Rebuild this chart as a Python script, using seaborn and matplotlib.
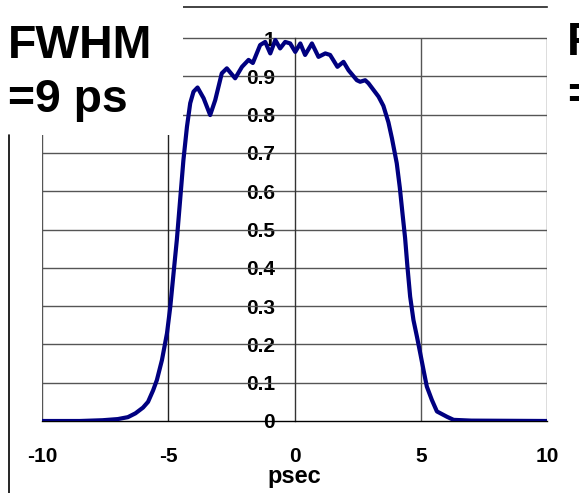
import matplotlib
matplotlib.use("Agg")
import matplotlib.pyplot as plt
import seaborn as sns
import pandas as pd
from matplotlib.lines import Line2D
from matplotlib.patches import Rectangle

sns.set_style("white")
plt.rcParams['font.family'] = ['Liberation Sans', 'DejaVu Sans']
plt.rcParams['text.color'] = 'black'
plt.rcParams['xtick.color'] = 'black'
plt.rcParams['ytick.color'] = 'black'
plt.rcParams['axes.labelcolor'] = 'black'

# ---- data ----
time_ps = [-10, -8.5, -7.6, -7.0, -6.6, -6.3, -6.0, -5.8, -5.6, -5.45, -5.25, -5.05,
           -4.92, -4.79, -4.66, -4.53, -4.4, -4.26, -4.13, -4.0, -3.84, -3.6, -3.34,
           -3.14, -2.88, -2.68, -2.35, -2.08, -1.82, -1.65, -1.36, -1.16, -0.96, -0.76,
           -0.57, -0.37, -0.17, 0.03, 0.23, 0.42, 0.69, 0.95, 1.22, 1.41, 1.7, 1.94,
           2.14, 2.47, 2.6, 2.8, 2.93, 3.33, 3.52, 3.72, 3.86, 4.05, 4.17, 4.28, 4.38,
           4.47, 4.58, 4.71, 4.85, 4.98, 5.11, 5.24, 5.44, 5.64, 6.04, 6.3, 7.0, 10]
intensity = [0, 0, 0.002, 0.005, 0.01, 0.02, 0.035, 0.05, 0.08, 0.107, 0.159, 0.229,
             0.298, 0.386, 0.473, 0.577, 0.681, 0.768, 0.83, 0.86, 0.871, 0.843, 0.799,
             0.838, 0.908, 0.921, 0.895, 0.925, 0.943, 0.935, 0.982, 0.99, 0.96, 0.995,
             0.973, 0.99, 0.986, 0.964, 0.986, 0.956, 0.986, 0.951, 0.96, 0.956, 0.925, 0.938,
             0.916, 0.89, 0.886, 0.89, 0.882, 0.847, 0.823, 0.78, 0.738, 0.673, 0.61, 0.54, 0.478,
             0.405, 0.325, 0.264, 0.22, 0.177, 0.133, 0.09, 0.055, 0.025, 0.011, 0.003, 0.001, 0]
x_ticks = [-10, -5, 0, 5, 10]
x_tick_labels = ["-10", "-5", "0", "5", "10"]
y_ticks = [0, 0.1, 0.2, 0.3, 0.4, 0.5, 0.6, 0.7, 0.8, 0.9, 1]
y_tick_labels = ["0", "0.1", "0.2", "0.3", "0.4", "0.5", "0.6", "0.7", "0.8", "0.9", "1"]
x_label = "psec"
note_left = "FWHM\n=9 ps"
note_right = "F\n="

df = pd.DataFrame({"t": time_ps, "I": intensity})

W, H = 579, 493
fig = plt.figure(figsize=(W / 100, H / 100), dpi=100)
ax = fig.add_axes([42 / W, (H - 421) / H, (547 - 42) / W, (421 - 6.7) / H])

ax.set_xlim(-10, 10)
ax.set_ylim(0, 1.082)

grid_c = '#555555'
ax.hlines(y_ticks[1:], -10, 10, colors=grid_c, lw=1, zorder=1)
ax.vlines([-10, -5, 5, 10], 0, 1, colors=[grid_c, '#222222', grid_c, grid_c], lw=1, zorder=1)

sns.lineplot(data=df, x="t", y="I", ax=ax, color='#000080', lw=3.0, zorder=3,
             solid_joinstyle='round', solid_capstyle='round')

ax.spines['right'].set_visible(False)
ax.spines['top'].set_color('#222222')
ax.spines['top'].set_linewidth(1.2)
ax.spines['bottom'].set_color('black')
ax.spines['bottom'].set_linewidth(1)
ax.spines['left'].set_position(('data', 0))
ax.spines['left'].set_bounds(0, 1)
ax.spines['left'].set_color('#333333')
ax.spines['left'].set_linewidth(1)

ax.set_xticks(x_ticks)
ax.set_xticklabels(x_tick_labels, fontsize=15, fontweight='bold')
ax.set_yticks(y_ticks)
ax.set_yticklabels(y_tick_labels, fontsize=15, fontweight='bold')
ax.tick_params(axis='x', direction='out', length=5.5, width=1, color='black', pad=13)
ax.tick_params(axis='y', direction='inout', length=4, width=1, color='black', pad=12)
for lab in ax.get_yticklabels():
    lab.set_zorder(5)

ax.set_xlabel(x_label, fontsize=17, fontweight='bold')
ax.xaxis.label.set_va('center')
ax.xaxis.set_label_coords((294 - 42) / 505, (421 - 476) / 414.3)
ax.set_ylabel("")

# white text box covering top-left area
fig.add_artist(Rectangle((0, (H - 135) / H), 183 / W, 135 / H, transform=fig.transFigure,
                         facecolor='white', edgecolor='none', zorder=4))
fig.text(8 / W, 1 - 24 / H, note_left, ha='left', va='top', fontsize=33.4,
         fontweight='bold', linespacing=1.3, zorder=6)
fig.text(567 / W, 1 - 21 / H, note_right, ha='left', va='top', fontsize=33.4,
         fontweight='bold', linespacing=1.3, zorder=6)
fig.add_artist(Line2D([8.5 / W, 8.5 / W], [0, (H - 135) / H], transform=fig.transFigure,
                      color='black', lw=1.2, zorder=6))

fig.savefig("out.png", dpi=100)
